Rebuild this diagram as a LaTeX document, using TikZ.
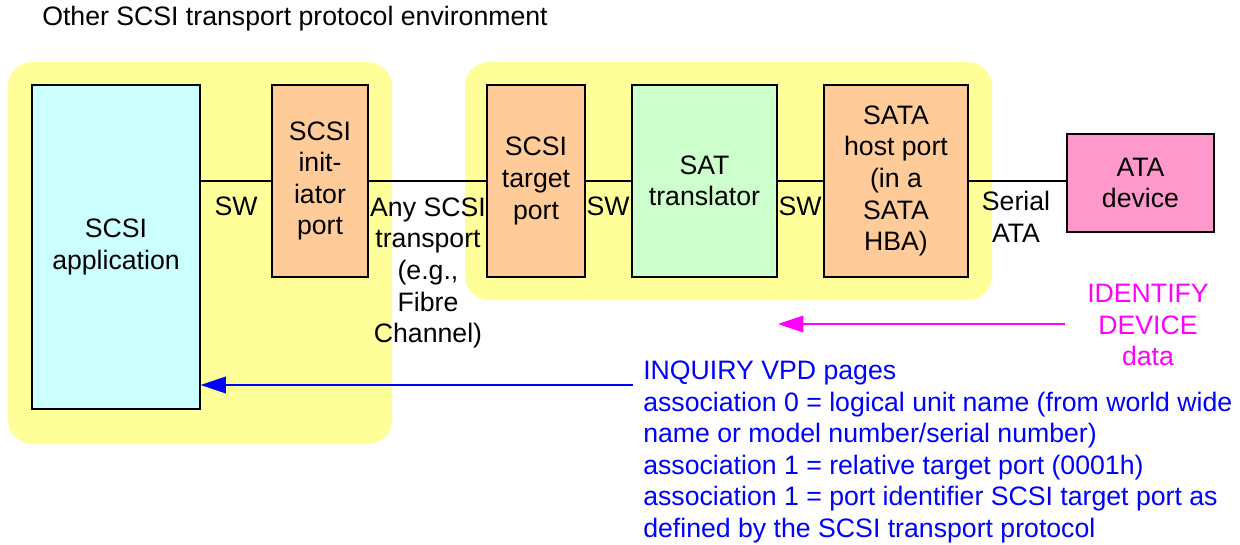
\documentclass[tikz,border=0pt]{standalone}
\usepackage{fontspec}
\setmainfont{Liberation Sans}
\usetikzlibrary{arrows.meta}

\definecolor{bgyellow}{HTML}{FFFF99}
\definecolor{appcyan}{HTML}{CCFFFF}
\definecolor{portorange}{HTML}{FFCC99}
\definecolor{satgreen}{HTML}{CCFFCC}
\definecolor{devpink}{HTML}{FF99CC}
\definecolor{idmagenta}{HTML}{FF00FF}
\definecolor{inqblue}{HTML}{0000FF}

\begin{document}
\begin{tikzpicture}[x=0.75pt,y=-0.75pt,
  every node/.style={font=\fontsize{20}{23.7}\selectfont, inner sep=0pt},
  box/.style={draw, line width=0.9pt, align=center},
  lbl/.style={align=center},
  link/.style={line width=0.8pt},
  msg/.style={line width=1.1pt, -{Triangle[length=19pt,width=12.5pt]}},
  area/.style={fill=bgyellow, rounded corners=18pt}]

\useasboundingbox (0,0) rectangle (1240,544);

% transport environments
\fill[area] (8,62) rectangle (392,444);
\fill[area] (465,62) rectangle (992,300);

\node[anchor=west] (title) at (42,19) {Other SCSI transport protocol environment};

% functional blocks
\node[box, fill=appcyan, minimum width=126pt, minimum height=243pt] (app) at (116,247) {SCSI\\application};
\node[box, fill=portorange, minimum width=72pt, minimum height=144pt] (init) at (320,181) {SCSI\\init-\\iator\\port};
\node[box, fill=portorange, minimum width=73.5pt, minimum height=144pt] (tgt) at (536,181) {SCSI\\target\\port};
\node[box, fill=satgreen, minimum width=108.75pt, minimum height=144pt] (sat) at (704.5,181) {SAT\\translator};
\node[box, fill=portorange, minimum width=108pt, minimum height=144pt] (host) at (896,181) {SATA\\host port\\(in a\\SATA\\HBA)};
\node[box, fill=devpink, minimum width=110.25pt, minimum height=73.5pt] (ata) at (1140.5,183) {ATA\\device};

% links between blocks
\draw[link] (init.west -| app.east) -- (init.west);
\draw[link] (init.east) -- (tgt.west);
\draw[link] (tgt.east) -- (sat.west);
\draw[link] (sat.east) -- (host.west);
\draw[link] (host.east) -- (host.east -| ata.west);

% link labels
\node[lbl] (sw1) at (236,206) {SW};
\node[lbl] (anyscsi) at (428,273) {Any SCSI\\transport\\(e.g.,\\Fibre\\Channel)};
\node[lbl] (sw2) at (608,206) {SW};
\node[lbl] (sw3) at (800,206) {SW};
\node[lbl] (serata) at (1016,217) {Serial\\ATA};

% data flows
\node[lbl, text=idmagenta] (idtext) at (1148,325) {IDENTIFY\\DEVICE\\data};
\coordinate (idstart) at (1065,324);
\coordinate (idend) at (778,324);
\draw[msg, idmagenta] (idstart) -- (idend);

\node[align=left, anchor=west, text=inqblue] (inqtext) at (643,452)
  {INQUIRY VPD pages\\
   association 0 = logical unit name (from world wide\\
   name or model number/serial number)\\
   association 1 = relative target port (0001h)\\
   association 1 = port identifier SCSI target port as\\
   defined by the SCSI transport protocol};
\coordinate (inqstart) at (633,385);
\draw[msg, inqblue] (inqstart) -- (inqstart -| app.east);

\end{tikzpicture}
\end{document}
